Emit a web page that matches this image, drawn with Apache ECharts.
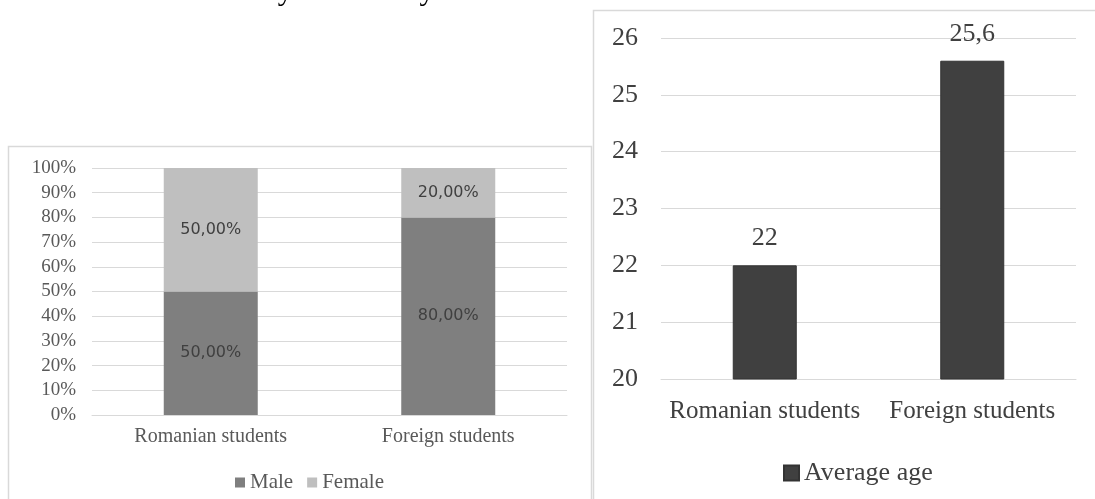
<!DOCTYPE html>
<html>
<head>
<meta charset="utf-8">
<script src="https://cdn.jsdelivr.net/npm/echarts@6/dist/echarts.min.js"></script>
<style>
  body { margin: 0; background: #fff; }
  #chart { position: absolute; left: 0; top: 0; width: 1095px; height: 499px; }
  #note {
    position: absolute; right: 655px; top: -25px;
    font: 30px/30px 'Liberation Serif', serif; color: #000;
    white-space: nowrap; z-index: 2;
  }
</style>
</head>
<body>
<div id="note">the second and final year of study.</div>
<div id="chart"></div>
<script>
// data
const categories = ['Romanian students', 'Foreign students']
const maleShare = [50, 80]
const femaleShare = [50, 20]
const averageAge = [22, 25.6]

const serif = 'Liberation Serif'
const comma = (v) => String(v).replace('.', ',')

let myChart = echarts.init(document.getElementById('chart'))
let option = {
  animation: false,
  backgroundColor: '#fff',
  graphic: [
    {
      type: 'rect',
      shape: { x: 8.5, y: 146.5, width: 583, height: 400 },
      style: { fill: 'none', stroke: '#d9d9d9', lineWidth: 1.5 },
    },
    {
      type: 'rect',
      shape: { x: 593.5, y: 10.5, width: 600, height: 600 },
      style: { fill: 'none', stroke: '#d9d9d9', lineWidth: 1.5 },
    },
  ],
  legend: [
    {
      data: ['Male', 'Female'],
      left: 230,
      top: 467,
      icon: 'rect',
      itemWidth: 10,
      itemHeight: 10,
      itemGap: 14,
      textStyle: { fontFamily: serif, fontSize: 21, color: '#595959' },
    },
    {
      data: ['Average age'],
      left: 778,
      top: 455,
      icon: 'rect',
      itemWidth: 15,
      itemHeight: 15,
      textStyle: { fontFamily: serif, fontSize: 26, color: '#404040' },
    },
  ],
  grid: [
    { left: 92, right: 528, top: 168, bottom: 84 },
    { left: 661, right: 19, top: 38, bottom: 120 },
  ],
  xAxis: [
    {
      type: 'category',
      gridIndex: 0,
      data: categories,
      axisLine: { lineStyle: { color: '#d9d9d9' } },
      axisTick: { show: false },
      axisLabel: { interval: 0, fontFamily: serif, fontSize: 20, color: '#595959', margin: 12 },
    },
    {
      type: 'category',
      gridIndex: 1,
      data: categories,
      axisLine: { lineStyle: { color: '#d9d9d9' } },
      axisTick: { show: false },
      axisLabel: { interval: 0, hideOverlap: false, fontFamily: serif, fontSize: 25, color: '#404040', margin: 20 },
    },
  ],
  yAxis: [
    {
      type: 'value',
      gridIndex: 0,
      min: 0,
      max: 100,
      interval: 10,
      axisLine: { show: false },
      axisTick: { show: false },
      splitLine: { lineStyle: { color: '#d9d9d9' } },
      axisLabel: {
        formatter: '{value}%',
        fontFamily: serif,
        fontSize: 19,
        color: '#595959',
        margin: 16,
      },
    },
    {
      type: 'value',
      gridIndex: 1,
      min: 20,
      max: 26,
      interval: 1,
      axisLine: { show: false },
      axisTick: { show: false },
      splitLine: { lineStyle: { color: '#d9d9d9' } },
      axisLabel: { fontFamily: serif, fontSize: 26, color: '#404040', margin: 23 },
    },
  ],
  series: [
    {
      name: 'Male',
      type: 'bar',
      stack: 'gender',
      xAxisIndex: 0,
      yAxisIndex: 0,
      barWidth: 94,
      data: maleShare,
      itemStyle: { color: '#7f7f7f' },
      label: {
        show: true,
        position: 'inside',
        formatter: (p) => p.value.toFixed(2).replace('.', ',') + '%',
        fontFamily: 'DejaVu Sans',
        fontSize: 16,
        color: '#404040',
      },
    },
    {
      name: 'Female',
      type: 'bar',
      stack: 'gender',
      xAxisIndex: 0,
      yAxisIndex: 0,
      barWidth: 94,
      data: femaleShare,
      itemStyle: { color: '#bfbfbf' },
      label: {
        show: true,
        position: 'inside',
        formatter: (p) => p.value.toFixed(2).replace('.', ',') + '%',
        fontFamily: 'DejaVu Sans',
        fontSize: 16,
        color: '#404040',
      },
    },
    {
      name: 'Average age',
      type: 'bar',
      xAxisIndex: 1,
      yAxisIndex: 1,
      barWidth: 64,
      data: averageAge,
      itemStyle: { color: '#404040', borderColor: '#333', borderWidth: 1 },
      label: {
        show: true,
        position: 'top',
        distance: 14,
        formatter: (p) => comma(p.value),
        fontFamily: serif,
        fontSize: 26,
        color: '#404040',
      },
    },
  ],
}
myChart.setOption(option)
</script>
</body>
</html>
